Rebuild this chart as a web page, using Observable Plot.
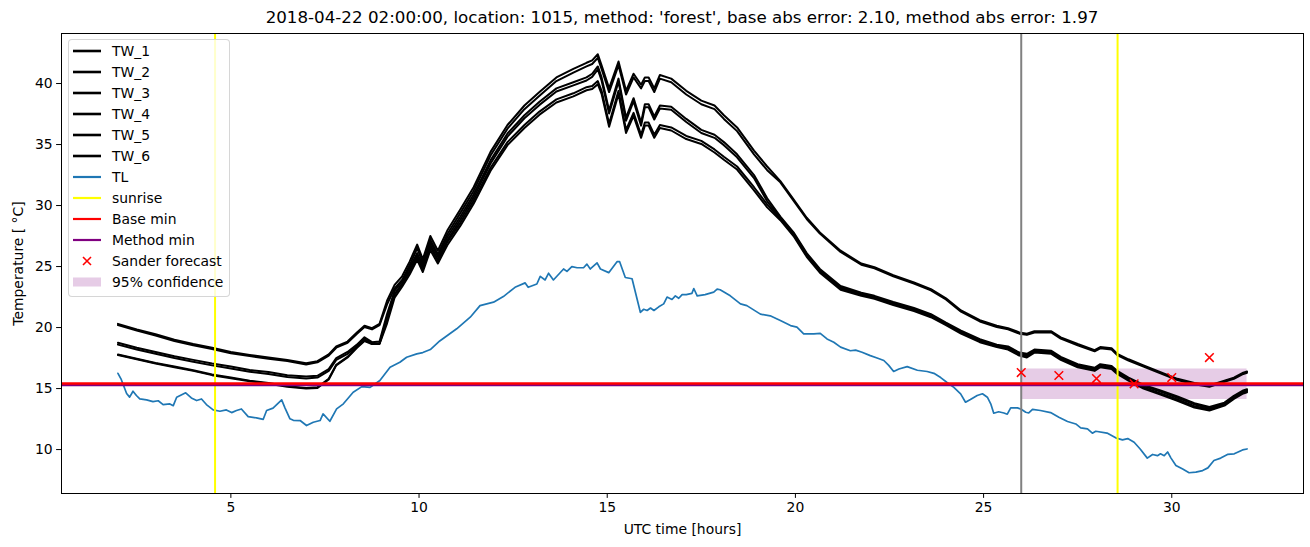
<!DOCTYPE html>
<html><head><meta charset="utf-8">
<script src="https://cdn.jsdelivr.net/npm/d3@7"></script>
<script src="https://cdn.jsdelivr.net/npm/@observablehq/plot@0.6"></script>
<style>
body{margin:0;background:#fff;font-family:"DejaVu Sans",sans-serif;}
#wrap{position:relative;width:1310px;height:547px;overflow:hidden;}
#title{margin-left:61px;width:1242px;height:32px;line-height:34px;font-size:16.7px;text-align:center;white-space:nowrap;color:#000;}
#legend{position:absolute;left:68px;top:39px;width:160px;height:256px;background:rgba(255,255,255,0.8);border:1px solid rgba(204,204,204,0.8);border-radius:4px;}
.lg-sw{position:absolute;}
.lg-tx{position:absolute;font-size:13.9px;line-height:14px;color:#000;white-space:nowrap;transform:translateY(-50%);}
</style>
</head><body>
<div id="wrap">
<div id="title"></div>
<div id="chart"></div>
<div id="legend"></div>
</div>
<script>
const titleText = "2018-04-22 02:00:00, location: 1015, method: 'forest', base abs error: 2.10, method abs error: 1.97";
const xLabel = "UTC time [hours]";
const yLabel = "Temperature [ °C]";

const twHours = [2.0,2.5,3.0,3.5,4.0,4.5,5.0,5.5,6.0,6.5,7.0,7.3,7.6,7.8,8.1,8.35,8.55,8.75,8.95,9.15,
 9.35,9.55,9.75,9.95,10.1,10.3,10.5,10.75,11.1,11.45,11.9,12.35,12.8,13.2,13.65,14.1,14.45,14.6,14.75,14.85,
 15.05,15.3,15.5,15.7,15.9,16.0,16.1,16.25,16.4,16.7,17.1,17.5,17.85,18.1,18.45,18.9,19.25,19.6,19.95,20.3,
 20.65,21.2,21.75,22.1,22.6,23.15,23.6,24.0,24.4,24.9,25.35,25.65,25.95,26.15,26.35,26.8,27.05,27.5,27.95,28.1,
 28.4,28.55,28.85,29.25,29.7,30.15,30.6,31.0,31.4,31.65,31.9,32.0];

const TW_1 = [20.3,19.85,19.45,19.0,18.65,18.35,18.0,17.76,17.55,17.35,
 17.08,17.25,17.8,18.45,18.85,19.6,20.15,19.95,20.3,22.2,
 23.5,24.2,25.4,26.8,25.6,27.5,26.3,27.95,29.7,31.5,
 34.4,36.6,38.2,39.3,40.5,41.2,41.7,41.9,42.4,41.5,
 39.6,41.8,39.4,40.8,39.9,40.5,40.5,39.6,40.7,40.4,
 39.4,38.6,38.2,37.4,36.4,34.5,33.2,32.0,30.5,29.0,
 27.8,26.3,25.25,24.95,24.3,23.7,23.15,22.4,21.4,20.6,
 20.15,19.95,19.6,19.5,19.7,19.7,19.2,18.65,18.15,18.4,
 18.3,17.85,17.4,16.9,16.35,15.8,15.45,15.25,15.65,15.9,
 16.3,16.4];
const TW_2 = [20.2,19.75,19.35,18.9,18.55,18.25,17.9,17.66,17.45,17.25,
 16.98,17.15,17.7,18.35,18.75,19.5,20.05,19.85,20.2,21.9,
 23.2,23.9,25.1,26.5,25.3,27.2,26.0,27.65,29.4,31.2,
 34.1,36.3,37.9,39.0,40.2,40.9,41.4,41.6,42.1,41.2,
 39.3,41.5,39.1,40.5,39.6,40.2,40.2,39.3,40.4,40.1,
 39.1,38.3,37.9,37.1,36.1,34.2,32.9,31.9,30.4,28.9,
 27.7,26.2,25.15,24.85,24.2,23.6,23.05,22.3,21.3,20.5,
 20.05,19.85,19.5,19.4,19.6,19.6,19.1,18.55,18.05,18.3,
 18.2,17.75,17.3,16.8,16.25,15.7,15.35,15.15,15.55,15.8,
 16.2,16.3];
const TW_3 = [18.75,18.35,18.0,17.65,17.35,17.05,16.8,16.53,16.35,16.1,
 15.98,16.05,16.6,17.5,18.0,18.6,19.2,18.8,18.85,21.1,
 23.0,23.8,24.9,26.1,25.1,27.0,25.8,27.4,29.1,30.9,
 33.7,35.9,37.4,38.5,39.6,40.1,40.5,40.8,41.4,40.5,
 37.8,40.4,37.2,38.8,36.8,38.3,38.3,37.3,38.2,38.1,
 37.1,36.2,35.8,35.2,34.2,32.5,30.6,29.1,27.8,26.1,
 24.8,23.4,22.85,22.6,22.1,21.6,21.1,20.4,19.75,19.05,
 18.6,18.45,17.95,17.85,18.2,18.1,17.6,17.0,16.7,17.0,
 16.85,16.45,15.9,15.3,14.85,14.35,13.8,13.5,13.85,14.4,
 14.85,14.95];
const TW_4 = [18.6,18.2,17.85,17.5,17.2,16.9,16.65,16.38,16.2,15.95,
 15.83,15.9,16.45,17.35,17.85,18.45,19.05,18.65,18.7,20.85,
 22.75,23.55,24.65,25.85,24.85,26.75,25.55,27.15,28.85,30.65,
 33.45,35.65,37.15,38.25,39.35,39.85,40.25,40.55,41.15,40.25,
 37.55,40.15,36.95,38.55,36.55,38.05,38.05,37.05,37.95,37.85,
 36.85,35.95,35.55,34.95,33.95,32.25,30.35,29.0,27.7,26.0,
 24.7,23.3,22.75,22.5,22.0,21.5,21.0,20.3,19.65,18.95,
 18.5,18.35,17.85,17.75,18.1,18.0,17.5,16.9,16.6,16.9,
 16.75,16.35,15.8,15.2,14.75,14.25,13.7,13.4,13.75,14.3,
 14.75,14.85];
const TW_5 = [17.8,17.45,17.1,16.8,16.5,16.15,15.9,15.65,15.45,15.2,
 15.05,15.1,15.8,16.95,17.6,18.4,18.95,18.7,18.7,20.6,
 22.7,23.6,24.6,25.8,24.8,26.6,25.5,27.0,28.6,30.4,
 33.1,35.2,36.6,37.7,38.7,39.2,39.7,39.8,40.2,39.4,
 36.7,39.4,36.2,37.6,35.8,36.8,36.8,35.8,36.6,36.4,
 35.7,35.3,34.6,34.0,33.2,31.5,30.1,28.9,27.6,25.9,
 24.6,23.2,22.7,22.45,21.95,21.45,20.95,20.3,19.6,18.9,
 18.5,18.3,17.8,17.65,18.05,17.95,17.45,16.85,16.55,16.85,
 16.7,16.3,15.75,15.1,14.6,14.1,13.55,13.3,13.7,14.25,
 14.7,14.8];
const TW_6 = [17.75,17.4,17.05,16.75,16.45,16.1,15.85,15.6,15.4,15.15,
 15.0,15.05,15.75,16.9,17.55,18.35,18.9,18.65,18.65,20.35,
 22.45,23.35,24.35,25.55,24.55,26.35,25.25,26.75,28.35,30.15,
 32.85,34.95,36.35,37.45,38.45,38.95,39.45,39.55,39.95,39.15,
 36.45,39.15,35.95,37.35,35.55,36.55,36.55,35.55,36.35,36.15,
 35.45,35.05,34.35,33.75,32.95,31.25,29.85,28.8,27.5,25.8,
 24.5,23.1,22.6,22.35,21.85,21.35,20.85,20.2,19.5,18.8,
 18.4,18.2,17.7,17.55,17.95,17.85,17.35,16.75,16.45,16.75,
 16.6,16.2,15.65,15.0,14.5,14.0,13.45,13.2,13.6,14.15,
 14.6,14.7];

const tlHours = [2.0,2.08,2.23,2.31,2.4,2.49,2.58,2.76,2.93,3.07,3.2,3.38,3.47,3.56,3.8,3.95,4.09,4.22,4.35,4.53,
 4.71,4.88,5.02,5.15,5.28,5.46,5.68,5.86,5.95,6.12,6.35,6.44,6.57,6.66,6.84,7.01,7.19,7.37,7.45,7.63,
 7.81,7.99,8.25,8.48,8.7,8.96,9.23,9.49,9.67,9.94,10.1,10.3,10.55,11.0,11.36,11.62,11.98,12.24,12.55,12.82,
 12.9,13.13,13.22,13.35,13.44,13.57,13.84,13.93,14.06,14.2,14.37,14.46,14.55,14.73,14.82,15.04,15.26,15.33,15.48,15.66,
 15.88,15.97,16.06,16.15,16.24,16.37,16.5,16.59,16.72,16.81,16.9,16.99,17.1,17.25,17.3,17.39,17.6,17.83,17.92,18.0,
 18.27,18.54,18.71,19.07,19.33,19.6,19.87,20.04,20.22,20.49,20.66,20.84,21.02,21.2,21.46,21.6,21.77,21.99,22.17,22.35,
 22.48,22.61,22.75,22.97,23.24,23.5,23.68,23.86,24.03,24.21,24.39,24.52,24.65,24.83,24.97,25.1,25.19,25.27,25.4,25.54,
 25.63,25.72,25.9,26.0,26.12,26.2,26.3,26.51,26.78,27.0,27.23,27.45,27.58,27.76,27.89,27.98,28.28,28.51,28.69,28.83,
 29.0,29.16,29.35,29.49,29.62,29.7,29.8,29.89,29.98,30.11,30.29,30.46,30.64,30.82,30.96,31.12,31.3,31.48,31.66,31.88,
 32.0];
const tlValues = [16.25,15.8,14.6,14.3,14.78,14.43,14.15,14.07,13.93,14.0,13.69,13.74,13.6,14.29,14.65,14.23,14.02,14.15,13.69,13.25,
 13.14,13.25,13.03,13.2,13.33,12.7,12.6,12.48,13.2,13.4,14.07,13.4,12.52,12.4,12.38,11.97,12.24,12.38,12.92,12.32,
 13.33,13.75,14.7,15.16,15.1,15.66,16.75,17.16,17.57,17.84,17.95,18.2,18.9,19.9,20.85,21.8,22.08,22.54,23.3,23.66,
 23.3,23.57,24.2,23.9,24.45,23.9,24.8,24.6,25.0,24.9,24.9,25.2,24.8,25.3,24.8,24.5,25.4,25.4,24.1,24.0,
 21.25,21.5,21.4,21.6,21.4,21.7,21.94,22.5,22.3,22.6,22.4,22.7,22.7,22.8,23.2,22.6,22.7,22.9,23.15,23.1,
 22.6,21.94,21.8,21.1,20.96,20.57,20.16,20.03,19.48,19.48,19.53,19.07,18.8,18.4,18.1,18.15,17.98,17.7,17.5,17.3,
 16.9,16.4,16.6,16.8,16.5,16.4,16.25,15.9,15.5,15.1,14.57,13.88,14.1,14.43,14.57,14.29,13.75,12.98,13.1,13.0,
 12.9,13.42,13.42,13.3,13.06,13.0,13.3,13.2,13.03,12.65,12.3,12.1,11.78,11.7,11.34,11.5,11.35,10.96,10.8,10.9,
 10.6,10.05,9.3,9.6,9.5,9.65,9.5,9.8,9.3,8.69,8.4,8.1,8.15,8.28,8.5,9.1,9.3,9.6,9.65,9.97,
 10.05];

const sunriseHours = [4.58, 28.56];
const forecastStartHour = [26];
const baseMin = [15.42];
const methodMin = [15.29];
const sanderHours = [26, 27, 28, 29, 30, 31];
const sanderValues = [16.31, 16.07, 15.82, 15.39, 15.9, 17.54];
const ciHours = [26, 32];
const ciLower = [14.1, 14.1];
const ciUpper = [16.6, 16.6];
const xTicks = [5, 10, 15, 20, 25, 30];
const yTicks = [10, 15, 20, 25, 30, 35, 40];
const twNames = ["TW_1", "TW_2", "TW_3", "TW_4", "TW_5", "TW_6"];
const twSeries = [TW_1, TW_2, TW_3, TW_4, TW_5, TW_6];

const legendLabels = ["TW_1","TW_2","TW_3","TW_4","TW_5","TW_6","TL","sunrise","Base min","Method min","Sander forecast","95% confidence"];
const legendColors = ["black","black","black","black","black","black","#1f77b4","yellow","red","purple","red","#e6cce6"];
const legendKinds = ["line","line","line","line","line","line","line","line","line","line","x","patch"];

// tables built from the arrays
const twRows = twNames.flatMap((name, k) => twHours.map((h, i) => ({series: name, hour: h, value: twSeries[k][i]})));
const tlRows = tlHours.map((h, i) => ({hour: h, value: tlValues[i]}));
const sanderRows = sanderHours.map((h, i) => ({hour: h, value: sanderValues[i]}));
const ciRows = ciHours.map((h, i) => ({hour: h, lo: ciLower[i], hi: ciUpper[i]}));

document.getElementById("title").textContent = titleText;

const chart = Plot.plot({
  width: 1310,
  height: 515,
  marginTop: 1,
  marginLeft: 61,
  marginRight: 7,
  marginBottom: 54,
  style: {fontFamily: "DejaVu Sans, sans-serif", fontSize: "13.9px", color: "black", background: "white"},
  x: {domain: [0.5, 33.5]},
  y: {domain: [6.4, 44.1]},
  marks: [
    Plot.areaY(ciRows, {x: "hour", y1: "lo", y2: "hi", fill: "#e6cce6"}),
    Plot.line(twRows, {x: "hour", y: "value", z: "series", stroke: "black", strokeWidth: 2}),
    Plot.line(tlRows, {x: "hour", y: "value", stroke: "#1f77b4", strokeWidth: 1.7}),
    Plot.ruleX(sunriseHours, {stroke: "yellow", strokeWidth: 2}),
    Plot.ruleX(forecastStartHour, {stroke: "gray", strokeWidth: 2}),
    Plot.ruleY(methodMin, {stroke: "purple", strokeWidth: 2.5}),
    Plot.ruleY(baseMin, {stroke: "red", strokeWidth: 2.5}),
    Plot.dot(sanderRows, {x: "hour", y: "value", symbol: "times", stroke: "red", r: 4, strokeWidth: 1.5}),
    Plot.frame({stroke: "black", strokeWidth: 1}),
    Plot.axisX({ticks: xTicks, tickSize: 4.9, tickPadding: 4, fontSize: 13.9, label: xLabel, labelAnchor: "center", labelOffset: 40, labelArrow: "none"}),
    Plot.axisY({ticks: yTicks, tickSize: 4.9, tickPadding: 4, fontSize: 13.9, label: yLabel, labelAnchor: "center", labelOffset: 48, labelArrow: "none"})
  ]
});
document.getElementById("chart").appendChild(chart);

// legend (matplotlib style, upper left)
const wrap = d3.select("#wrap");
legendLabels.forEach((lab, i) => {
  const cy = 51 + 20.97 * i;
  const sw = wrap.append("svg").attr("class", "lg-sw")
    .style("left", "72px").style("top", (cy - 6) + "px")
    .attr("width", 30).attr("height", 12);
  if (legendKinds[i] === "line") {
    sw.append("line").attr("x1", 1).attr("x2", 29).attr("y1", 6).attr("y2", 6)
      .attr("stroke", legendColors[i]).attr("stroke-width", legendColors[i] === "black" ? 2.6 : 2.2);
  } else if (legendKinds[i] === "x") {
    sw.append("path").attr("d", "M11,2L19,10M11,10L19,2").attr("stroke", legendColors[i]).attr("stroke-width", 1.6).attr("fill", "none");
  } else {
    sw.append("rect").attr("x", 1).attr("y", 1.5).attr("width", 28).attr("height", 9).attr("fill", legendColors[i]);
  }
  wrap.append("div").attr("class", "lg-tx").style("left", "112px").style("top", cy + "px").text(lab);
});
</script>
</body></html>
